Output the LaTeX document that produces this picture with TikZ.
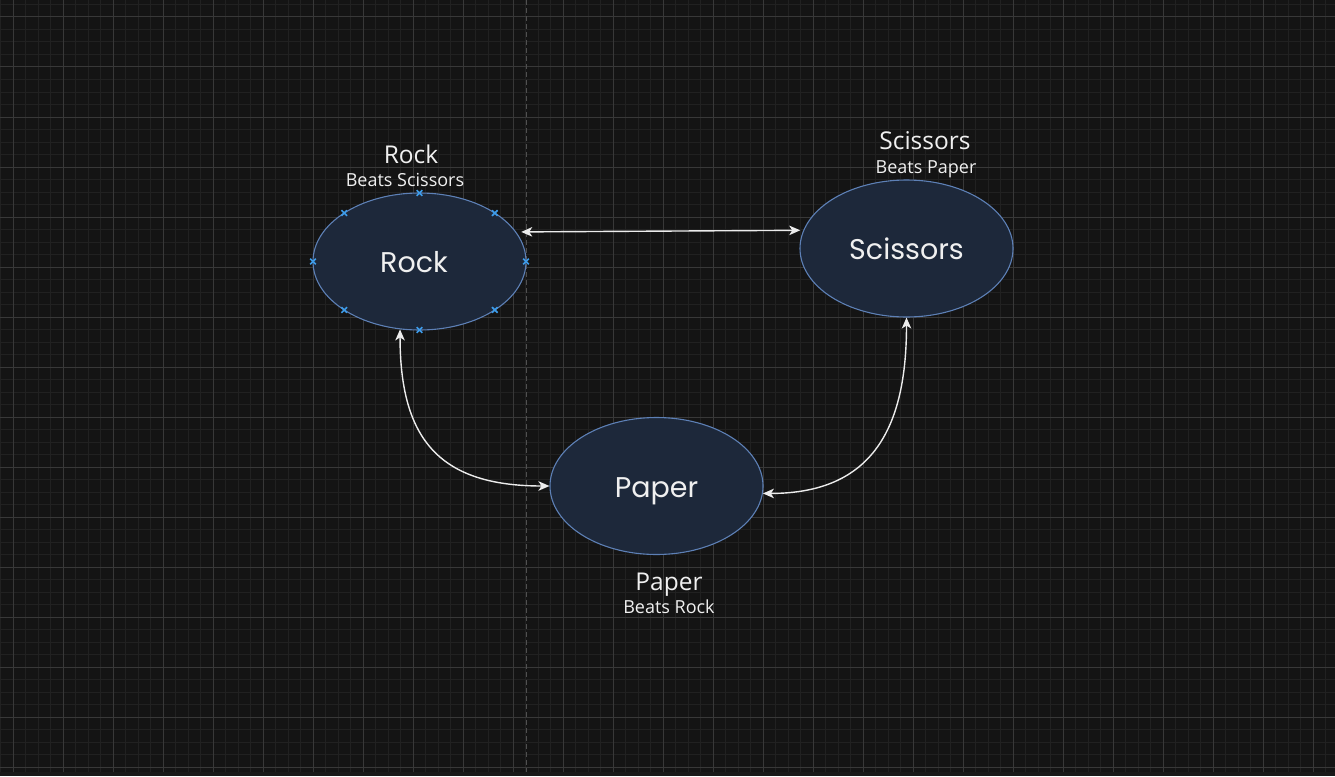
\documentclass[tikz,border=0pt]{standalone}
\usepackage{fontspec}
\setmainfont{Open Sans}
\newfontfamily\shapefont{Poppins}
\usetikzlibrary{shapes.geometric,arrows.meta}

\definecolor{canvas}{HTML}{141414}
\definecolor{gridminor}{HTML}{212121}
\definecolor{gridmajor}{HTML}{383838}
\definecolor{guide}{HTML}{505050}
\definecolor{blobfill}{HTML}{1D283A}
\definecolor{blobedge}{HTML}{5D80B6}
\definecolor{inktext}{HTML}{F0F0F0}
\definecolor{wire}{HTML}{ECECEC}
\definecolor{marker}{HTML}{3D9BE9}
\definecolor{footer}{HTML}{191919}

\begin{document}
\begin{tikzpicture}[x=1pt,y=-1pt,
  blob/.style={ellipse, draw=blobedge, fill=blobfill, line width=1.1pt,
    minimum width=213pt, minimum height=137pt, inner sep=0pt,
    text=inktext, font=\shapefont\fontsize{28.5}{31}\selectfont,
    text height=22pt, text depth=0pt},
  title/.style={anchor=base, inner sep=0pt, text=inktext,
    font=\fontsize{24.5}{28}\selectfont},
  subtitle/.style={anchor=base, inner sep=0pt, text=inktext,
    font=\fontsize{18}{21}\selectfont},
  link/.style={draw=wire, line width=1.4pt,
    {Stealth[length=11pt,width=9.5pt,inset=3pt]}-{Stealth[length=11pt,width=9.5pt,inset=3pt]}},
  xmark/.style={draw=marker, line width=1.6pt}]

% canvas and bounding box
\fill[canvas] (0,0) rectangle (1335,776);
\useasboundingbox (0,0) rectangle (1335,776);

% minor grid
\foreach \i in {0,...,106} \draw[gridminor, line width=1pt] (0.5+12.5*\i,0) -- (0.5+12.5*\i,772);
\foreach \i in {0,...,61} \draw[gridminor, line width=1pt] (0,4.5+12.5*\i) -- (1335,4.5+12.5*\i);
% major grid
\foreach \i in {0,...,26} \draw[gridmajor, line width=1pt] (13+50*\i,0) -- (13+50*\i,772);
\foreach \i in {0,...,15} \draw[gridmajor, line width=1pt] (0,17+50*\i) -- (1335,17+50*\i);
% footer strip
\fill[footer] (0,772) rectangle (1335,776);

% page guide
\draw[guide, line width=1pt, dash pattern=on 5pt off 3pt] (526,0) -- (526,772);

% shapes
\node[blob] (rock) at (419.5,261.5) {Rock\kern11pt};
\node[blob] (scissors) at (906.5,248.5) {Scissors};
\node[blob] (paper) at (656.5,486) {Paper};

% connection points on the selected shape
\foreach \a in {0,45,...,315} {
  \coordinate (rk\a) at ([shift={(\a:106.5 and 68.5)}]rock.center);
  \draw[xmark] (rk\a) +(-2.8,-2.8) -- +(2.8,2.8) (rk\a) +(-2.8,2.8) -- +(2.8,-2.8);
}

% captions
\node[title] (rocktitle) at (411,163) {Rock};
\node[subtitle] (rocksub) at (405,186) {Beats Scissors};
\node[title] (scissorstitle) at (925,149) {Scissors};
\node[subtitle] (scissorssub) at (926,173) {Beats Paper};
\node[title] (papertitle) at (669,590) {Paper};
\node[subtitle] (papersub) at (669,613) {Beats Rock};

% connectors
\draw[link] ([xshift=5pt]rock.17) -- ([xshift=-3pt]scissors.170);
\draw[link] (rock.254) .. controls +(0,110) and +(-110,0) .. (paper.west);
\draw[link] (scissors.south) .. controls +(0,110) and +(110,0) .. (paper.-4);

\end{tikzpicture}
\end{document}
